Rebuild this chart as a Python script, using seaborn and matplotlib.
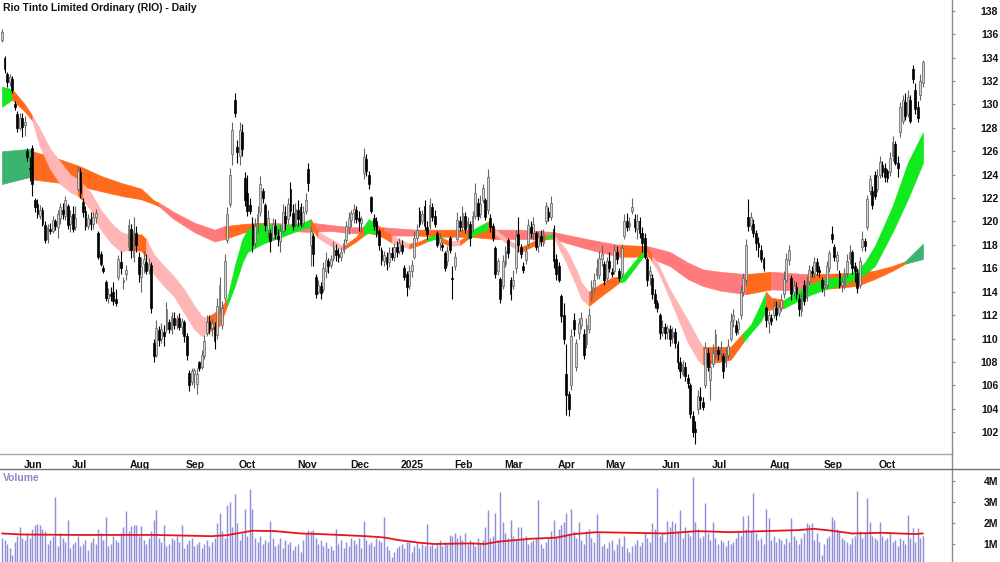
import numpy as np
import matplotlib
matplotlib.use('Agg')
import matplotlib.pyplot as plt
import seaborn as sns
from matplotlib import transforms
from matplotlib.lines import Line2D

# daily bars, Rio Tinto (RIO), late May 2024 -> late Oct 2025
opens = [
    135.5, 134.0, 132.6, 131.9, 132.2, 130.0, 129.2, 128.0, 128.8, 128.2,
    126.0, 124.6, 126.3, 121.8, 121.5, 120.5, 121.0, 119.7, 118.5, 119.4,
    119.2, 120.0, 119.5, 120.3, 121.0, 120.5, 121.3, 119.8, 120.6, 119.5,
    122.8, 124.2, 121.7, 120.9, 119.6, 120.2, 119.8, 120.4, 119.0, 117.2,
    116.0, 114.8, 113.5, 113.8, 114.0, 113.4, 115.3, 116.5, 114.8, 115.5,
    117.8, 119.4, 117.0, 119.0, 117.0, 115.3, 116.4, 116.5, 115.9, 116.3,
    109.6, 108.6, 110.7, 110.0, 110.6, 110.8, 111.4, 110.7, 111.8, 111.2,
    111.8, 111.0, 111.4, 110.2, 107.1, 106.3, 107.0, 106.1, 108.0, 107.6,
    108.5, 110.5, 111.5, 110.9, 111.0, 110.3, 112.5, 111.2, 113.5, 118.4,
    121.5, 125.8, 130.4, 126.4, 125.6, 127.6, 123.7, 122.4, 121.4, 119.8,
    118.2, 119.7, 120.8, 122.6, 121.4, 119.3, 119.0, 118.6, 119.6, 118.8,
    118.3, 119.2, 120.5, 120.2, 122.8, 120.7, 119.7, 121.0, 121.2, 119.9,
    120.9, 124.5, 118.0, 118.8, 115.3, 114.0, 114.5, 114.2, 115.8, 116.6,
    116.3, 116.9, 117.6, 117.2, 117.0, 117.5, 118.4, 119.5, 120.1, 120.7,
    121.0, 120.3, 119.9, 124.1, 125.3, 124.0, 122.1, 120.3, 120.0, 119.2,
    117.6, 116.6, 117.0, 116.5, 117.3, 117.0, 117.8, 117.5, 118.0, 116.0,
    115.5, 114.5, 115.8, 117.0, 118.6, 120.9, 120.0, 121.3, 119.5, 119.6,
    121.2, 120.5, 119.0, 118.2, 118.0, 117.3, 116.6, 118.6, 115.2, 116.2,
    118.5, 120.0, 119.5, 120.5, 119.5, 119.8, 119.4, 120.5, 121.6, 120.6,
    121.8, 121.8, 121.0, 120.3, 119.6, 117.7, 115.8, 115.1, 114.5, 116.4,
    118.4, 115.0, 114.5, 116.0, 118.9, 117.8, 116.2, 116.7, 118.1, 119.5,
    119.0, 119.0, 117.9, 118.8, 118.2, 120.0, 120.8, 120.4, 119.4, 116.8,
    116.2, 113.6, 112.0, 107.0, 105.3, 106.0, 111.6, 107.6, 110.5, 111.2,
    110.4, 109.5, 110.8, 113.5, 114.3, 115.4, 115.4, 116.8, 116.4, 115.2,
    116.6, 115.7, 115.8, 117.4, 115.8, 115.5, 118.8, 120.0, 119.6, 120.9,
    120.2, 119.4, 120.0, 119.0, 118.6, 116.8, 115.4, 115.2, 113.8, 113.0,
    112.0, 110.6, 111.0, 110.6, 110.8, 110.1, 110.6, 109.5, 108.0, 107.0,
    107.6, 106.6, 106.0, 103.4, 102.3, 104.0, 105.0, 104.6, 106.0, 108.8,
    106.5, 107.8, 108.5, 109.0, 108.7, 108.5, 108.0, 108.6, 110.0, 111.6,
    111.2, 110.8, 112.0, 114.0, 115.0, 120.4, 119.6, 119.8, 119.0, 118.2,
    117.6, 116.8, 112.6, 111.3, 111.8, 112.0, 112.6, 112.2, 112.6, 113.8,
    115.0, 116.7, 115.2, 114.0, 114.4, 113.4, 112.4, 114.6, 113.5, 114.9,
    115.8, 115.6, 116.5, 115.9, 115.0, 114.4, 114.6, 116.0, 118.9, 117.8,
    116.6, 115.6, 114.6, 114.6, 115.6, 116.8, 117.4, 116.2, 115.6, 114.6,
    117.8, 118.3, 119.5, 122.6, 122.6, 124.0, 122.8, 124.0, 124.8, 124.6,
    124.3, 124.2, 125.6, 126.6, 125.0, 127.6, 128.6, 130.2, 129.2, 130.4,
    133.0, 131.2, 129.8, 130.8, 131.8,
]
highs = [
    136.4, 134.1, 132.8, 132.6, 132.4, 130.3, 129.4, 129.3, 129.3, 129.0,
    126.3, 125.5, 126.5, 122.0, 121.9, 121.4, 121.2, 120.0, 119.8, 119.9,
    120.5, 120.2, 121.0, 121.6, 121.6, 122.2, 121.5, 121.0, 121.3, 121.3,
    124.7, 124.6, 122.0, 121.3, 120.6, 120.8, 120.8, 121.1, 119.2, 117.5,
    116.3, 115.0, 114.3, 114.4, 114.8, 114.2, 117.1, 117.5, 115.3, 116.3,
    120.2, 119.8, 120.4, 119.6, 117.4, 117.0, 117.5, 117.2, 116.9, 116.5,
    110.0, 111.6, 111.1, 111.3, 111.2, 113.1, 111.7, 112.3, 112.3, 112.0,
    112.2, 111.8, 111.6, 110.5, 107.3, 107.5, 107.5, 107.5, 108.1, 109.0,
    110.3, 112.0, 112.0, 111.8, 111.4, 113.5, 115.3, 113.2, 117.2, 121.2,
    124.6, 128.5, 131.0, 127.0, 128.5, 128.3, 124.2, 124.0, 122.0, 120.4,
    120.3, 121.3, 123.9, 122.9, 121.6, 121.0, 119.4, 120.3, 120.2, 119.4,
    119.7, 121.5, 121.3, 122.0, 123.4, 121.5, 121.6, 121.8, 121.6, 121.3,
    122.4, 125.0, 119.6, 119.0, 115.5, 115.0, 114.8, 116.5, 117.4, 116.9,
    117.1, 118.3, 118.1, 117.7, 117.8, 118.5, 120.0, 120.8, 121.0, 121.5,
    121.3, 120.9, 120.5, 126.3, 125.8, 124.3, 122.2, 120.6, 120.4, 119.4,
    117.8, 117.5, 117.4, 117.8, 117.8, 118.2, 118.3, 118.6, 118.4, 116.3,
    115.8, 116.3, 116.7, 119.2, 119.8, 121.2, 121.0, 121.8, 120.0, 122.0,
    121.6, 121.0, 119.2, 119.0, 118.2, 117.5, 117.9, 118.8, 116.2, 117.4,
    120.8, 120.5, 121.3, 120.8, 120.4, 120.0, 120.9, 123.3, 122.0, 122.3,
    123.2, 122.0, 124.5, 120.6, 119.9, 117.9, 116.9, 115.3, 117.1, 117.9,
    118.6, 115.3, 115.9, 119.3, 120.4, 118.1, 116.5, 117.9, 120.2, 120.0,
    120.4, 119.2, 119.2, 119.3, 119.4, 121.7, 121.2, 122.2, 119.7, 117.2,
    116.5, 113.8, 113.0, 109.5, 105.5, 110.8, 112.2, 110.0, 111.8, 112.3,
    110.8, 111.8, 112.6, 115.0, 115.6, 116.8, 117.5, 118.0, 116.6, 117.0,
    117.4, 116.0, 118.0, 117.9, 116.0, 118.1, 120.6, 120.7, 120.4, 122.0,
    120.6, 120.6, 120.4, 119.5, 119.0, 117.0, 116.2, 115.5, 114.2, 113.3,
    112.2, 111.6, 111.3, 111.2, 111.2, 111.0, 110.9, 109.8, 108.4, 108.2,
    108.0, 107.0, 106.2, 103.8, 103.0, 105.6, 105.9, 105.0, 109.7, 109.2,
    108.2, 109.5, 110.8, 109.4, 109.8, 108.8, 109.3, 110.0, 112.2, 112.5,
    111.6, 111.8, 114.6, 115.6, 118.5, 121.9, 120.8, 120.2, 119.3, 118.7,
    118.0, 117.0, 112.8, 112.4, 112.1, 113.3, 113.2, 113.0, 113.8, 115.8,
    117.3, 118.0, 115.4, 115.0, 114.8, 113.8, 114.0, 115.0, 115.3, 116.3,
    116.2, 117.0, 116.9, 116.2, 115.3, 115.0, 116.6, 117.6, 119.6, 118.1,
    117.5, 115.9, 115.3, 116.0, 117.2, 118.0, 117.6, 116.5, 116.0, 117.0,
    119.2, 118.6, 122.3, 124.0, 123.0, 124.3, 124.5, 125.6, 125.2, 125.0,
    124.5, 125.9, 127.3, 126.9, 125.6, 130.2, 130.8, 131.0, 131.2, 130.8,
    133.4, 131.8, 130.3, 132.6, 133.8,
]
lows = [
    135.3, 132.7, 131.5, 131.6, 131.0, 129.5, 127.6, 127.8, 127.2, 127.3,
    125.2, 123.5, 122.2, 120.8, 120.3, 120.2, 119.6, 118.2, 118.2, 118.9,
    119.0, 119.3, 118.6, 119.8, 120.2, 120.1, 119.4, 119.1, 119.1, 119.3,
    122.6, 122.0, 120.4, 119.3, 119.4, 119.3, 119.4, 119.9, 116.8, 116.2,
    115.6, 113.2, 113.0, 113.2, 112.9, 112.8, 115.0, 115.5, 114.2, 115.0,
    117.5, 116.9, 116.5, 117.4, 114.8, 114.0, 115.6, 115.5, 115.5, 112.2,
    108.0, 108.4, 109.4, 109.6, 109.4, 110.6, 110.5, 110.4, 110.8, 110.8,
    110.7, 110.4, 109.7, 108.2, 105.5, 106.0, 105.8, 105.3, 107.2, 107.4,
    108.3, 110.2, 110.4, 110.2, 109.1, 110.0, 112.2, 110.8, 113.2, 118.2,
    121.2, 124.8, 128.9, 125.0, 124.8, 125.6, 121.3, 120.5, 120.6, 117.4,
    117.8, 119.0, 120.5, 121.6, 119.2, 118.6, 117.4, 118.4, 118.5, 117.9,
    117.4, 119.0, 119.3, 119.8, 120.5, 119.3, 119.5, 119.6, 119.5, 119.6,
    120.6, 122.6, 116.2, 116.2, 113.5, 113.8, 113.4, 114.0, 115.2, 115.6,
    116.0, 116.6, 116.6, 116.5, 116.6, 117.3, 118.2, 118.9, 119.5, 119.9,
    119.9, 119.2, 119.1, 123.6, 123.9, 122.8, 120.7, 119.3, 118.7, 117.6,
    116.3, 116.2, 115.9, 116.1, 116.7, 116.6, 117.0, 117.2, 117.2, 115.0,
    113.6, 114.2, 115.3, 116.8, 118.3, 119.5, 119.8, 119.3, 118.5, 119.4,
    120.0, 119.5, 117.8, 117.6, 117.5, 115.8, 116.2, 117.3, 113.4, 115.9,
    118.3, 119.2, 119.2, 119.0, 118.6, 117.9, 119.2, 120.2, 120.1, 120.3,
    121.6, 120.1, 120.6, 119.1, 118.3, 115.2, 115.4, 113.0, 114.2, 116.1,
    116.9, 113.3, 114.2, 115.6, 117.4, 116.9, 115.6, 116.4, 117.8, 118.6,
    118.4, 117.6, 117.4, 117.9, 117.9, 119.8, 120.0, 120.1, 116.0, 115.0,
    114.8, 111.4, 109.5, 103.5, 103.4, 105.6, 110.2, 107.2, 110.0, 110.8,
    108.3, 109.2, 110.5, 113.2, 114.0, 115.1, 115.1, 116.2, 114.6, 114.9,
    115.7, 115.3, 115.5, 116.4, 114.9, 115.3, 118.5, 119.2, 119.3, 120.6,
    119.1, 118.5, 118.6, 117.4, 116.8, 114.5, 114.6, 113.4, 112.6, 112.3,
    110.0, 110.2, 110.0, 110.0, 109.4, 109.6, 109.2, 107.4, 106.6, 106.8,
    106.4, 105.8, 103.2, 101.6, 101.0, 103.6, 104.0, 103.9, 105.8, 107.2,
    104.8, 107.6, 108.3, 108.2, 108.2, 106.6, 107.6, 108.3, 109.8, 111.0,
    110.3, 110.4, 111.7, 113.6, 114.6, 119.2, 119.3, 118.7, 117.6, 117.0,
    116.5, 115.8, 111.0, 110.5, 111.2, 111.8, 111.6, 111.9, 112.4, 113.5,
    114.8, 116.3, 113.3, 113.6, 113.4, 111.9, 111.9, 112.9, 113.2, 114.6,
    115.3, 115.2, 115.4, 115.3, 114.0, 113.6, 114.3, 115.7, 118.2, 116.6,
    115.9, 114.3, 114.0, 114.2, 115.3, 116.4, 115.5, 114.8, 113.9, 114.3,
    117.5, 117.5, 119.3, 122.3, 121.1, 121.9, 122.5, 123.7, 123.8, 123.4,
    123.4, 123.9, 125.2, 124.8, 123.8, 127.2, 128.3, 128.7, 128.9, 128.4,
    131.8, 129.2, 128.5, 130.4, 131.5,
]
closes = [
    136.2, 133.0, 131.9, 132.3, 131.2, 129.8, 128.0, 128.8, 128.1, 128.5,
    125.5, 124.5, 123.2, 121.2, 120.6, 121.0, 119.8, 118.4, 119.5, 119.2,
    120.1, 119.6, 120.6, 121.2, 120.6, 121.8, 119.7, 120.5, 119.4, 120.3,
    124.3, 122.4, 120.8, 119.6, 120.3, 119.8, 120.4, 120.7, 117.0, 116.4,
    115.8, 113.5, 113.8, 113.6, 113.2, 113.0, 116.8, 116.0, 115.0, 115.9,
    119.7, 117.6, 119.2, 118.0, 115.5, 116.2, 116.8, 115.8, 116.4, 112.6,
    108.5, 110.9, 109.9, 110.8, 110.2, 112.5, 110.8, 111.9, 111.2, 111.7,
    111.0, 111.5, 110.2, 108.6, 106.0, 107.2, 107.3, 107.0, 107.5, 108.6,
    109.8, 111.4, 110.9, 111.3, 109.8, 112.8, 114.6, 112.6, 116.6, 120.6,
    124.0, 127.8, 129.3, 125.9, 127.8, 126.2, 121.8, 120.9, 120.9, 118.0,
    119.6, 120.6, 123.2, 122.0, 119.7, 120.3, 118.3, 119.8, 118.9, 118.5,
    119.2, 120.8, 119.9, 121.5, 120.9, 119.6, 121.1, 120.2, 119.8, 120.8,
    121.8, 123.3, 119.2, 117.2, 113.8, 114.6, 113.9, 116.0, 116.7, 116.2,
    116.8, 117.8, 117.1, 117.0, 117.4, 118.2, 119.6, 120.3, 120.7, 121.1,
    120.2, 120.0, 120.2, 125.5, 124.3, 123.2, 120.9, 119.6, 119.0, 118.0,
    116.7, 117.1, 116.4, 117.3, 117.0, 117.8, 117.4, 118.2, 117.5, 115.3,
    114.4, 115.8, 116.3, 118.6, 119.3, 119.8, 120.6, 119.6, 118.9, 121.4,
    120.4, 119.8, 118.0, 118.6, 117.8, 116.0, 117.5, 117.6, 115.1, 117.0,
    120.1, 119.5, 120.7, 119.4, 120.0, 118.6, 120.5, 122.4, 120.5, 121.5,
    122.9, 120.4, 123.8, 119.5, 118.6, 115.5, 116.6, 113.4, 116.6, 117.5,
    117.3, 113.8, 115.0, 118.8, 118.0, 117.2, 115.9, 117.5, 119.7, 119.0,
    119.8, 117.8, 118.7, 118.3, 118.9, 121.3, 120.4, 121.6, 116.6, 115.5,
    115.0, 111.9, 110.0, 105.2, 104.0, 110.2, 110.8, 109.6, 111.3, 111.8,
    108.6, 111.2, 112.0, 114.4, 115.0, 116.0, 116.9, 117.2, 115.0, 116.6,
    116.0, 115.5, 117.6, 116.8, 115.2, 117.7, 120.0, 119.5, 119.9, 121.2,
    119.5, 120.0, 119.0, 118.2, 117.0, 115.0, 115.8, 113.8, 113.0, 112.6,
    110.5, 111.0, 110.5, 110.9, 110.0, 110.6, 109.6, 108.0, 107.2, 107.8,
    106.8, 106.2, 103.6, 102.0, 102.0, 105.1, 104.8, 104.2, 109.2, 107.6,
    107.6, 108.8, 110.4, 108.7, 109.2, 107.2, 108.7, 109.4, 111.5, 112.0,
    110.6, 111.4, 114.0, 115.2, 118.0, 119.6, 120.4, 119.0, 118.2, 117.8,
    116.8, 116.0, 111.6, 112.0, 111.5, 112.8, 112.0, 112.7, 113.3, 115.1,
    116.8, 117.6, 113.8, 114.5, 113.8, 112.5, 113.4, 113.2, 114.8, 115.9,
    115.6, 116.5, 115.8, 115.7, 114.3, 114.6, 116.2, 117.3, 118.5, 117.0,
    117.1, 114.6, 114.8, 115.6, 116.6, 117.4, 116.0, 115.8, 114.3, 116.6,
    118.5, 117.9, 121.9, 123.6, 121.4, 122.2, 123.9, 125.1, 124.2, 123.8,
    123.7, 125.4, 126.8, 125.0, 124.6, 129.8, 130.4, 129.0, 130.6, 128.6,
    132.2, 129.6, 128.8, 132.0, 133.6,
]
# volume in millions of shares
volume_m = [
    1.3, 1.2, 1.0, 0.8, 0.5, 1.1, 1.4, 1.8, 1.3, 1.2,
    1.5, 1.3, 1.7, 1.9, 1.95, 1.9, 1.7, 1.6, 1.0, 1.2,
    1.4, 3.24, 0.9, 1.5, 1.3, 1.1, 2.16, 0.8, 1.0, 1.1,
    1.4, 0.9, 1.0, 1.2, 0.7, 1.1, 1.3, 1.0, 1.69, 1.5,
    1.2, 2.29, 0.9, 1.0, 1.4, 1.2, 1.1, 1.5, 1.8, 2.56,
    1.6, 1.85, 1.9, 1.9, 1.4, 1.85, 1.2, 1.0, 1.3, 1.6,
    2.16, 2.6, 1.3, 1.1, 1.9, 0.9, 1.0, 1.3, 1.2, 1.4,
    1.1, 1.9, 0.8, 1.0, 1.2, 1.3, 0.9, 1.0, 1.1, 0.8,
    1.0, 1.2, 0.9, 1.1, 1.3, 1.98, 2.45, 1.6, 1.3, 2.85,
    2.97, 1.8, 3.37, 2.0, 1.2, 1.5, 2.64, 1.4, 3.59, 2.64,
    1.3, 1.1, 1.4, 1.0, 1.2, 1.1, 2.08, 1.3, 0.9, 1.0,
    1.3, 0.8, 1.2, 1.0, 1.1, 0.7, 0.9, 1.0, 0.6, 1.2,
    1.5, 1.66, 1.6, 1.66, 1.3, 1.0, 1.2, 0.9, 1.1, 0.8,
    0.9, 0.7, 1.7, 1.0, 1.2, 0.8, 1.1, 0.9, 1.3, 1.2,
    1.0, 1.3, 0.8, 2.08, 1.2, 1.0, 1.1, 0.9, 1.3, 1.2,
    1.1, 2.29, 0.9, 0.7, 0.4, 0.6, 0.8, 0.9, 1.0, 0.8,
    1.1, 1.1, 0.6, 0.9, 1.1, 0.8, 1.0, 0.9, 1.95, 0.9,
    1.0, 0.8, 1.0, 1.2, 0.9, 1.1, 1.0, 1.45, 1.4, 1.5,
    1.3, 1.45, 1.2, 1.5, 1.0, 1.2, 1.1, 0.9, 1.3, 1.0,
    1.2, 1.82, 2.6, 1.3, 1.4, 2.45, 1.2, 3.47, 2.05, 1.5,
    1.3, 2.13, 1.4, 1.2, 1.82, 1.82, 1.3, 1.4, 1.0, 1.1,
    1.2, 1.3, 3.08, 1.0, 0.8, 1.1, 1.3, 1.6, 2.13, 1.4,
    1.7, 1.9, 2.05, 2.45, 1.5, 2.66, 1.6, 1.3, 2.05, 1.2,
    1.0, 1.6, 1.7, 1.3, 1.1, 2.4, 1.5, 0.9, 1.0, 0.8,
    1.1, 1.2, 0.7, 1.0, 1.3, 0.9, 1.4, 0.8, 0.6, 0.9,
    1.0, 1.2, 0.9, 1.1, 1.5, 1.3, 1.1, 2.0, 1.7, 3.64,
    1.4, 1.5, 1.1, 2.1, 1.8, 2.1, 2.0, 1.6, 2.6, 1.3,
    1.8, 1.5, 1.4, 4.18, 2.05, 1.7, 1.3, 1.4, 2.92, 1.5,
    1.2, 2.05, 1.3, 1.0, 1.2, 1.1, 0.9, 1.2, 1.0, 1.1,
    1.3, 1.6, 1.4, 2.32, 1.7, 2.37, 1.6, 3.4, 1.5, 1.2,
    1.3, 1.0, 2.64, 2.21, 1.2, 1.4, 1.1, 1.3, 1.2, 1.0,
    1.3, 1.1, 2.21, 1.4, 1.2, 1.0, 1.3, 1.5, 2.0, 1.9,
    2.0, 1.2, 1.5, 1.1, 0.5, 1.0, 1.3, 1.4, 2.26, 2.13,
    1.7, 1.6, 1.3, 1.2, 1.1, 1.0, 1.3, 1.4, 3.5, 1.6,
    1.3, 1.5, 3.19, 2.05, 1.4, 1.3, 1.2, 2.05, 1.4, 1.2,
    1.3, 1.5, 1.1, 1.2, 0.9, 1.3, 1.2, 1.0, 2.37, 1.3,
    1.74, 1.1, 1.74, 1.3, 1.4,
]
# volume moving average, read at a few bars
vma_idx = [0, 8, 30, 60, 83, 89, 99, 108, 118, 126, 144, 151, 157, 165, 171, 185, 191,
           196, 209, 219, 226, 235, 249, 262, 275, 288, 301, 315, 321, 328, 336, 348, 361, 364]
vma_val = [1.5, 1.45, 1.43, 1.43, 1.37, 1.42, 1.63, 1.61, 1.5, 1.47, 1.37, 1.31, 1.18, 1.06, 1.0,
           1.03, 1.0, 1.11, 1.25, 1.3, 1.47, 1.56, 1.53, 1.5, 1.61, 1.56, 1.61, 1.66, 1.72, 1.63,
           1.5, 1.53, 1.47, 1.5]

# short-term MMA ribbon (g = bullish, o = mixed, p = bearish)
s_idx = [0, 4, 9, 12, 15, 19, 23, 27, 30, 32,
         35, 39, 43, 47, 50, 55, 57, 60, 64, 68,
         72, 76, 79, 81, 86, 89, 92, 95, 97, 103,
         108, 113, 119, 122, 125, 130, 135, 140, 143, 145,
         148, 151, 154, 157, 161, 165, 168, 171, 174, 177,
         181, 184, 187, 192, 195, 199, 205, 211, 215, 218,
         223, 227, 229, 232, 236, 241, 244, 246, 250, 255,
         257, 259, 264, 271, 275, 277, 283, 288, 293, 296,
         300, 302, 304, 309, 318, 325, 332, 338, 341, 345,
         352, 358, 364]
s_hi = [131.5, 131.3, 130.0, 129.0, 127.9, 126.2, 125.1, 124.0, 123.6, 123.2,
        122.5, 121.0, 119.9, 119.1, 118.9, 118.9, 118.5, 117.2, 116.2, 115.3,
        114.2, 112.8, 111.9, 111.8, 112.5, 113.4, 116.2, 118.5, 119.3, 119.8,
        119.7, 119.7, 119.9, 120.2, 119.1, 118.5, 117.9, 118.7, 119.6, 120.2,
        119.8, 119.2, 118.8, 118.5, 118.1, 118.3, 118.6, 118.8, 118.6, 118.3,
        118.4, 118.8, 119.4, 120.0, 119.3, 118.6, 117.8, 118.4, 118.8, 118.9,
        117.6, 115.9, 114.8, 114.0, 114.6, 115.2, 115.3, 115.5, 116.6, 117.8,
        117.0, 116.5, 114.2, 111.6, 110.0, 109.3, 109.3, 109.3, 110.5, 111.2,
        113.0, 114.0, 113.5, 113.3, 114.5, 115.1, 115.3, 115.8, 116.5, 117.9,
        121.3, 125.0, 127.6]
s_lo = [129.8, 130.4, 129.4, 128.6, 126.4, 124.5, 123.2, 122.5, 122.2, 121.8,
        121.0, 119.3, 118.2, 117.4, 117.6, 117.5, 117.0, 115.5, 114.5, 113.6,
        112.2, 110.8, 110.2, 110.5, 111.1, 112.8, 114.5, 116.5, 117.4, 118.1,
        118.5, 118.9, 119.4, 119.5, 118.6, 117.9, 117.6, 118.3, 118.8, 119.1,
        118.9, 118.6, 118.2, 118.0, 117.7, 118.0, 118.3, 118.5, 118.2, 117.9,
        118.0, 118.5, 118.9, 119.3, 118.9, 118.2, 117.4, 118.0, 118.5, 118.7,
        116.5, 114.5, 113.4, 112.8, 113.5, 114.3, 114.8, 114.9, 116.0, 117.5,
        116.5, 115.9, 113.4, 109.7, 108.2, 107.8, 108.0, 108.2, 109.7, 110.5,
        111.5, 112.4, 112.5, 112.6, 113.6, 114.2, 114.6, 115.1, 115.5, 116.2,
        119.1, 121.9, 125.0]
s_state = list("goopppppop" "ppppoopppp" "pppooggggg" "gggoppoogg" "ooppooggop"
               "oggoppoogp" "pppooogggo" "pppppooogg" "googgggggg" "ggg")

# long-term MMA ribbon (d = bullish, o = mixed, r = bearish)
l_idx = [0, 11, 12, 23, 31, 39, 47, 55, 60, 62,
         68, 76, 84, 88, 96, 104, 114, 122, 130, 138,
         145, 151, 157, 164, 173, 185, 195, 205, 218, 229,
         236, 244, 255, 264, 271, 277, 284, 294, 304, 318,
         338, 345, 352, 357, 364]
l_hi = [126.0, 126.2, 126.0, 125.3, 124.7, 123.9, 123.3, 122.8, 121.8, 121.6,
        120.8, 119.9, 119.3, 119.6, 119.8, 119.9, 119.8, 119.9, 119.7, 119.5,
        119.5, 119.5, 119.4, 119.3, 119.3, 119.3, 119.3, 119.3, 119.1, 118.6,
        118.3, 118.0, 117.9, 117.4, 116.5, 115.9, 115.7, 115.5, 115.7, 115.5,
        115.6, 115.8, 116.2, 116.6, 118.1]
l_lo = [123.2, 123.8, 123.6, 123.3, 123.0, 122.6, 122.2, 121.9, 121.5, 121.3,
        120.2, 119.1, 118.3, 118.5, 119.1, 119.1, 119.2, 119.1, 119.2, 119.0,
        119.0, 118.8, 118.8, 118.8, 118.7, 118.7, 118.5, 118.5, 118.5, 117.8,
        117.4, 117.0, 117.0, 116.2, 115.1, 114.5, 114.1, 113.8, 114.2, 114.1,
        114.5, 115.1, 115.8, 116.4, 116.8]
l_state = list("ddooooooor" "rrroorrrrr" "orrooorrrr" "rorrrrroro" "ooodd")

month_idx = [8, 27, 50, 72, 93, 116, 137, 157, 178, 198, 219, 238, 260, 280, 303, 324, 346]
month_labels = ['Jun', 'Jul', 'Aug', 'Sep', 'Oct', 'Nov', 'Dec', '2025', 'Feb', 'Mar',
                'Apr', 'May', 'Jun', 'Jul', 'Aug', 'Sep', 'Oct']
price_ticks = [102, 104, 106, 108, 110, 112, 114, 116, 118, 120,
               122, 124, 126, 128, 130, 132, 134, 136, 138]
vol_ticks = [1, 2, 3, 4]
vol_labels = ['1M', '2M', '3M', '4M']

SHORT_COLORS = {'g': '#12ea1e', 'o': '#ff6a1c', 'p': '#ffb5b5'}
LONG_COLORS = {'d': '#3cb371', 'o': '#ff6a1c', 'r': '#ff7b7b'}


def draw_ribbon(ax, idx, hi, lo, states, palette, z):
    idx, hi, lo = np.asarray(idx), np.asarray(hi), np.asarray(lo)
    n = len(idx)
    start = 0
    for k in range(1, n + 1):
        if k == n or states[k] != states[start]:
            stop = min(k, n - 1)
            sl = slice(start, stop + 1)
            col = palette[states[start]]
            ax.fill_between(idx[sl], lo[sl], hi[sl], color=col, ec=col, linewidth=0.5, zorder=z)
            start = k


sns.set_style('white')
plt.rcParams['font.family'] = ['Liberation Sans', 'DejaVu Sans']
plt.rcParams['font.weight'] = 'bold'

W, H = 1000, 562
AX_R = 951.7
PRICE_BOTTOM = 454.3
VOL_TOP = 469
GRAY = '#8c8c8c'
FS = 7.5

fig = plt.figure(figsize=(10, 5.62), dpi=100)
ax = fig.add_axes([0, 1 - PRICE_BOTTOM / H, AX_R / W, PRICE_BOTTOM / H])
axv = fig.add_axes([0, 0, AX_R / W, (H - VOL_TOP) / H])

x = np.arange(len(closes))
o = np.array(opens)
c = np.array(closes)
hh = np.array(highs)
ll = np.array(lows)
up = c >= o

# ribbons
draw_ribbon(ax, l_idx, l_hi, l_lo, l_state, LONG_COLORS, 1)
draw_ribbon(ax, s_idx, s_hi, s_lo, s_state, SHORT_COLORS, 2)

# candles
ax.vlines(x[up], ll[up], hh[up], color='#666666', linewidth=0.8, zorder=3)
ax.vlines(x[~up], ll[~up], hh[~up], color='black', linewidth=0.8, zorder=3)
body_lo = np.minimum(o, c)
body_h = np.maximum(np.abs(c - o), 0.08)
ax.bar(x[up], body_h[up], bottom=body_lo[up], width=0.72, color='#d2d2d2',
       edgecolor='#5e5e5e', linewidth=0.5, zorder=4)
ax.bar(x[~up], body_h[~up], bottom=body_lo[~up], width=0.72, color='black',
       edgecolor='black', linewidth=0.5, zorder=4)

xlim = (-2 / 2.53, (AX_R - 2) / 2.53)
ax.set_xlim(*xlim)
ax.set_ylim(100.121, 138.914)

# volume panel
axv.vlines(x, 0, volume_m, color='#9090d8', linewidth=1.05, zorder=2)
sns.lineplot(x=vma_idx, y=vma_val, ax=axv, color='#e8141c', linewidth=1.3, zorder=3)
axv.set_xlim(*xlim)
axv.set_ylim(0.147, 4.555)

# axes styling
for a in (ax, axv):
    a.yaxis.tick_right()
    a.spines['left'].set_visible(False)
    a.spines['right'].set_color(GRAY)
    a.spines['right'].set_linewidth(1.0)
    a.tick_params(axis='y', direction='out', length=2, width=0.8, color=GRAY,
                  pad=31.5, labelsize=FS, labelcolor='#111111')
    a.set_xlabel('')
    a.set_ylabel('')

ax.spines['top'].set_visible(False)
ax.spines['bottom'].set_color('#a8a8a8')
ax.spines['bottom'].set_linewidth(1.0)
axv.spines['bottom'].set_visible(False)
axv.spines['top'].set_color('#707070')
axv.spines['top'].set_linewidth(1.0)

ax.set_yticks(price_ticks)
ax.set_yticklabels([str(t) for t in price_ticks], fontweight='bold', ha='right')
axv.set_yticks(vol_ticks)
axv.set_yticklabels(vol_labels, fontweight='bold', ha='right')

ax.set_xticks(month_idx)
ax.set_xticklabels(month_labels, fontweight='bold', ha='left', fontsize=FS, color='#111111')
ax.tick_params(axis='x', direction='out', length=3, width=0.8, color=GRAY, pad=1.2)
shift = transforms.ScaledTranslation(1.5 / 100, 0, fig.dpi_scale_trans)
for lbl in ax.get_xticklabels():
    lbl.set_transform(lbl.get_transform() + shift)
axv.set_xticks([])

# frame lines in the date strip
fig.add_artist(Line2D([AX_R / W, AX_R / W], [1 - VOL_TOP / H, 1 - PRICE_BOTTOM / H],
                      color=GRAY, linewidth=1.0))
fig.add_artist(Line2D([AX_R / W, 1.0], [1 - VOL_TOP / H, 1 - VOL_TOP / H],
                      color='#707070', linewidth=1.0))

fig.text(3 / W, 1 - 8 / H, 'Rio Tinto Limited Ordinary (RIO) - Daily', fontsize=FS,
         fontweight='bold', color='#111111', ha='left', va='center')
fig.text(3 / W, 1 - 478 / H, 'Volume', fontsize=FS, fontweight='bold',
         color='#8a8ac6', ha='left', va='center')

fig.savefig('out.png', dpi=100)
